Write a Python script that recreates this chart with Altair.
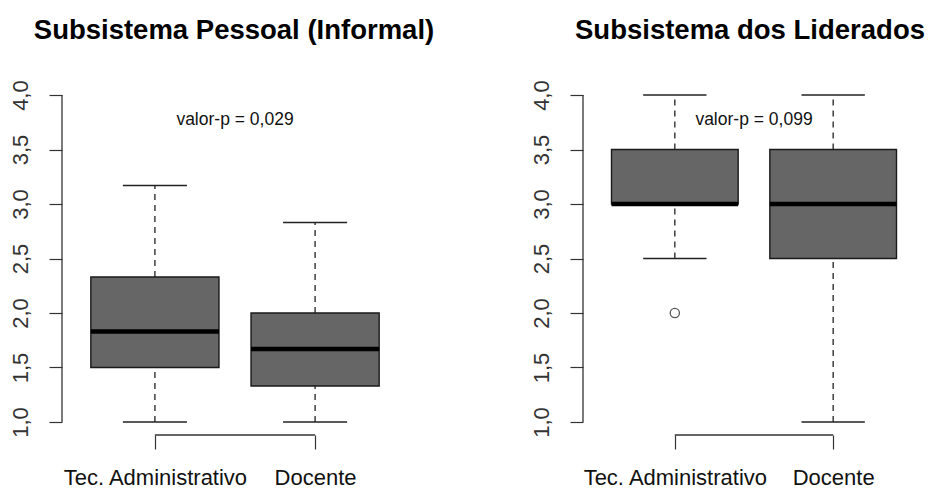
import json
import altair as alt
import pandas as pd

# ---------------- data ----------------
groups = ["Tec. Administrativo", "Docente"]
positions = [1, 2]

# Subsistema Pessoal (Informal)
pessoal_low = [1.0, 1.0]
pessoal_q1 = [1.5, 1.33]
pessoal_median = [1.83, 1.67]
pessoal_q3 = [2.33, 2.0]
pessoal_high = [3.17, 2.83]
pessoal_out_pos = []
pessoal_out_val = []
pessoal_pvalue = "valor-p = 0,029"

# Subsistema dos Liderados
liderados_low = [2.5, 1.0]
liderados_q1 = [3.0, 2.5]
liderados_median = [3.0, 3.0]
liderados_q3 = [3.5, 3.5]
liderados_high = [4.0, 4.0]
liderados_out_pos = [1]
liderados_out_val = [2.0]
liderados_pvalue = "valor-p = 0,099"

y_ticks = [1.0, 1.5, 2.0, 2.5, 3.0, 3.5, 4.0]
pvalue_x = 1.5
pvalue_y = 3.77

FONT = "Liberation Sans"
HEIGHT = 353
BOX_HALF = 0.4
CAP_HALF = 0.2

x_scale = alt.Scale(domain=[0.42, 2.58], nice=False, zero=False)
y_scale = alt.Scale(domain=[0.88, 4.12], nice=False, zero=False)

x_axis = alt.Axis(
    title=None, values=positions, grid=False, domain=False,
    tickSize=14, tickColor="#333", tickWidth=1.2,
    labelExpr=json.dumps(groups) + "[datum.value - 1]",
    labelFont=FONT, labelFontSize=22, labelColor="#111", labelLimit=0,
    labelPadding=18, labelAngle=0, labelBaseline="top",
)
y_axis = alt.Axis(
    title=None, values=y_ticks, grid=False, domain=False,
    tickSize=13, tickColor="#333", tickWidth=1.2,
    labelExpr="replace(format(datum.value, '.1f'), '.', ',')",
    labelFont=FONT, labelFontSize=22, labelColor="#333",
    labelAngle=270, labelAlign="center", labelBaseline="alphabetic",
    labelPadding=22,
)


def panel(title, low, q1, med, q3, high, out_pos, out_val, ptext, width, title_dx=0):
    df = pd.DataFrame({
        "pos": positions, "group": groups, "low": low, "q1": q1,
        "median": med, "q3": q3, "high": high,
    })
    base = alt.Chart(df).transform_calculate(
        bl=f"datum.pos - {BOX_HALF}", br=f"datum.pos + {BOX_HALF}",
        cl=f"datum.pos - {CAP_HALF}", cr=f"datum.pos + {CAP_HALF}",
    )
    X = lambda f: alt.X(f, type="quantitative", scale=x_scale, axis=x_axis)
    Y = lambda f: alt.Y(f, type="quantitative", scale=y_scale, axis=y_axis)

    whisk_up = base.mark_rule(color="#222", strokeWidth=1.3, strokeDash=[6, 5]).encode(
        x=X("pos"), y=Y("q3"), y2="high")
    whisk_dn = base.mark_rule(color="#222", strokeWidth=1.3, strokeDash=[6, 5]).encode(
        x=X("pos"), y=Y("low"), y2="q1")
    cap_up = base.mark_rule(color="#222", strokeWidth=1.5).encode(
        x=X("cl"), x2="cr", y=Y("high"))
    cap_dn = base.mark_rule(color="#222", strokeWidth=1.5).encode(
        x=X("cl"), x2="cr", y=Y("low"))
    box = base.mark_rect(fill="#666666", stroke="#1a1a1a", strokeWidth=1.4).encode(
        x=X("bl"), x2="br", y=Y("q1"), y2="q3")
    median = base.mark_rule(color="#000", strokeWidth=4.5).encode(
        x=X("bl"), x2="br", y=Y("median"))

    layers = [whisk_up, whisk_dn, cap_up, cap_dn, box, median]

    if out_pos:
        odf = pd.DataFrame({"pos": out_pos, "value": out_val})
        layers.append(alt.Chart(odf).mark_point(
            shape="circle", size=85, filled=False, color="#111", strokeWidth=1.3
        ).encode(x=X("pos"), y=Y("value")))

    pdf = pd.DataFrame({"x": [pvalue_x], "y": [pvalue_y], "label": [ptext]})
    layers.append(alt.Chart(pdf).mark_text(
        font=FONT, fontSize=17.5, color="#111", align="center", baseline="middle"
    ).encode(x=X("x"), y=Y("y"), text="label:N"))

    ydf = pd.DataFrame({"y0": [y_ticks[0]], "y1": [y_ticks[-1]]})
    layers.append(alt.Chart(ydf).mark_rule(color="#333", strokeWidth=1.3).encode(
        x=alt.value(0), y=Y("y0"), y2="y1"))
    xdf = pd.DataFrame({"x0": [positions[0]], "x1": [positions[-1]]})
    layers.append(alt.Chart(xdf).mark_rule(color="#333", strokeWidth=1.3).encode(
        x=X("x0"), x2="x1", y=alt.value(HEIGHT)))

    return alt.layer(*layers).properties(
        width=width, height=HEIGHT,
        title=alt.TitleParams(
            text=title, font=FONT, fontSize=27.5, fontWeight="bold", color="#000",
            anchor="middle", frame="group", offset=35, dx=title_dx,
        ),
    )


left = panel("Subsistema Pessoal (Informal)", pessoal_low, pessoal_q1, pessoal_median,
             pessoal_q3, pessoal_high, pessoal_out_pos, pessoal_out_val, pessoal_pvalue, 346,
             title_dx=-1)
right = panel("Subsistema dos Liderados", liderados_low, liderados_q1, liderados_median,
              liderados_q3, liderados_high, liderados_out_pos, liderados_out_val,
              liderados_pvalue, 342, title_dx=-4)

chart = alt.hconcat(left, right, spacing=94).properties(
    padding={"left": 8, "top": 17, "right": 0, "bottom": 0},
    background="white",
).configure_view(stroke=None)

chart.save("out.html", embed_options={"renderer": "svg", "actions": False})
